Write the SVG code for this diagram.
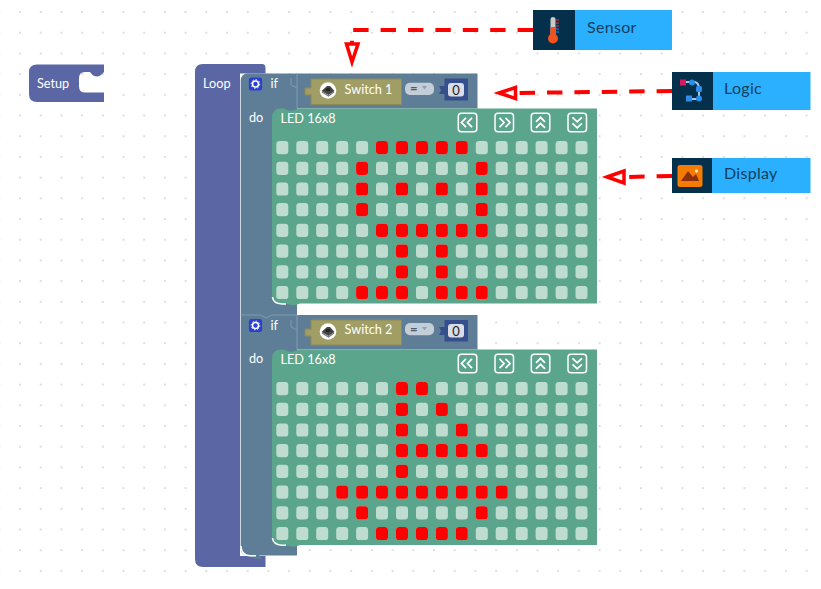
<svg xmlns="http://www.w3.org/2000/svg" width="821" height="589" viewBox="0 0 821 589">
<style>
text{font-family:"Lato","Liberation Sans",sans-serif}
.bt{fill:#fff;font-size:12.7px}
.lab{fill:#123f5c;font-size:16px;letter-spacing:.3px}
.loop{fill:#5b67a5}
.iff{fill:#5e7e97}
.green{fill:#5ba58c}
.sw{fill:#a09e64;stroke:#8c8a55;stroke-width:1}
.nav{fill:none;stroke:#fff;stroke-width:1.5}
.chev{fill:none;stroke:#fff;stroke-width:1.8}
.dash{fill:none;stroke:#f00;stroke-width:4;stroke-dasharray:15.4 12}
.head{fill:#fff;stroke:#f00;stroke-width:3.5}
.dark{fill:#04304b}
.blue{fill:#2bb0ff}
.hi{fill:none;stroke:#fff;stroke-width:1.6}
.tab{fill:none;stroke:#7f9ab0;stroke-width:1}
</style>
<defs>
<pattern id="dots" width="20.7" height="20.7" patternUnits="userSpaceOnUse" x="-0.7" y="12">
<circle cx="0" cy="0" r="0.9" fill="#d0d0d0"/><circle cx="20.7" cy="0" r="0.9" fill="#d0d0d0"/><circle cx="0" cy="20.7" r="0.9" fill="#d0d0d0"/><circle cx="20.7" cy="20.7" r="0.9" fill="#d0d0d0"/>
</pattern>
<rect id="c" width="12" height="13.2" rx="3.2" fill="#bfdcd1"/>
<rect id="r" width="12" height="13.2" rx="3.2" fill="#f00"/>
<g id="row">
<use href="#c" x="276.3"/><use href="#c" x="296.3"/><use href="#c" x="316.2"/><use href="#c" x="336.2"/><use href="#c" x="356.1"/><use href="#c" x="376"/><use href="#c" x="396"/><use href="#c" x="416"/><use href="#c" x="435.9"/><use href="#c" x="455.8"/><use href="#c" x="475.8"/><use href="#c" x="495.7"/><use href="#c" x="515.7"/><use href="#c" x="535.6"/><use href="#c" x="555.6"/><use href="#c" x="575.5"/>
</g>
<g id="navs">
<rect class="nav" x="458.300" y="0" width="18.500" height="18.500" rx="3"/><path class="chev" d="M466 4.500l-4.500 4.700 4.500 4.700M472 4.500l-4.500 4.700 4.500 4.700"/>
<rect class="nav" x="495" y="0" width="18.500" height="18.500" rx="3"/><path class="chev" d="M499.500 4.500l4.500 4.700-4.500 4.700M505.500 4.500l4.500 4.700-4.500 4.700"/>
<rect class="nav" x="531.300" y="0" width="18.500" height="18.500" rx="3"/><path class="chev" d="M536 8.500l4.500-4.500 4.500 4.500M536 14.500l4.500-4.500 4.500 4.500"/>
<rect class="nav" x="568" y="0" width="18.500" height="18.500" rx="3"/><path class="chev" d="M572.500 4l4.700 4.500 4.700-4.500M572.500 10l4.700 4.500 4.700-4.500"/>
</g>
<g id="gear"><rect x="-6.600" y="-6.600" width="13.200" height="13.200" rx="2.500" fill="#2a3fd0"/><circle r="3" fill="none" stroke="#fff" stroke-width="1.6"/><circle r="4.300" fill="none" stroke="#fff" stroke-width="1" stroke-dasharray="1.500 1.800"/></g>
<g id="swi"><circle r="8.300" fill="#fff"/><path d="M-6.500 0.500L-1-4.500H2L6.500 0.500 0.500 4.500Z" fill="#444"/><path d="M-6 1.500L0.500 5.500 6 1.500" fill="none" stroke="#777" stroke-width="1.200"/><ellipse cx="0" cy="-1" rx="2.500" ry="1.600" fill="#222"/></g>
</defs>
<rect width="821" height="589" fill="#fff"/>
<rect width="821" height="589" fill="url(#dots)"/>
<g id="setup">
<path class="loop" d="M37 64.500H104V72Q100 76.500 97 76.500 93 76.500 90 72H85Q79 72 79 78V86.500Q79 92.500 85 92.500H104V102H37Q29 102 29 94V72Q29 64.500 37 64.500Z"/>
<text class="bt" x="37" y="88">Setup</text>
</g>
<g id="loop">
<path class="loop" d="M203 64H262Q265.500 64 265.500 68V73.500H240V556H265.500V567H203Q195 567 195 559V72Q195 64 203 64Z"/>
<text class="bt" x="203" y="88">Loop</text>
</g>
<g id="if1">
<path class="iff" d="M248 73.500H477.500V108.500H297V315H240.700V81Q240.700 73.500 248 73.500Z"/>
<use href="#gear" transform="translate(255.500 84)"/>
<text class="bt" x="270.500" y="88">if</text>
<text class="bt" x="249" y="122">do</text>
<path class="tab" d="M291 78V85L297 88M297 73.500V108"/>
<path class="sw" d="M311 79H401.500V104.500H311V95H305V88H311Z"/>
<use href="#swi" transform="translate(328 90.500)"/>
<text class="bt" x="344.500" y="93.500">Switch 1</text>
<rect x="405" y="82.700" width="29" height="12.300" rx="5" fill="#c4ced9"/>
<text x="410" y="93" fill="#4a5c6d" font-size="13" font-weight="700">=</text><path d="M422 86h5l-2.500 3.500Z" fill="#8fa0b0"/>
<path d="M444.500 78.500H468V100.500H444.500V94H439L441 90 439 86H444.500Z" fill="#354f8c"/>
<rect x="448" y="83" width="16" height="13.500" rx="3" fill="#d8dde8"/>
<text x="456" y="94.500" fill="#222" font-size="13" text-anchor="middle">0</text>
</g>
<g id="led1">
<path class="green" d="M272 118Q272 108.500 281 108.500H284Q291 113 298 108.500H597V303.500H300Q293 307 286 303.500H282Q272 303.500 272 295Z"/>
<path class="hi" d="M272.500 297Q273 303.500 282 304H286"/>
<text class="bt" x="280.500" y="123">LED 16x8</text>
<use href="#navs" y="113.300"/>
<use href="#row" y="141"/><use href="#row" y="161.700"/><use href="#row" y="182.400"/><use href="#row" y="203.100"/><use href="#row" y="223.800"/><use href="#row" y="244.500"/><use href="#row" y="265.200"/><use href="#row" y="285.900"/>
<use href="#r" x="376" y="141"/><use href="#r" x="396" y="141"/><use href="#r" x="416" y="141"/><use href="#r" x="435.900" y="141"/><use href="#r" x="455.800" y="141"/>
<use href="#r" x="356.100" y="161.700"/><use href="#r" x="475.800" y="161.700"/>
<use href="#r" x="356.100" y="182.400"/><use href="#r" x="396" y="182.400"/><use href="#r" x="435.900" y="182.400"/><use href="#r" x="475.800" y="182.400"/>
<use href="#r" x="356.100" y="203.100"/><use href="#r" x="475.800" y="203.100"/>
<use href="#r" x="376" y="223.800"/><use href="#r" x="396" y="223.800"/><use href="#r" x="416" y="223.800"/><use href="#r" x="435.900" y="223.800"/><use href="#r" x="455.800" y="223.800"/><use href="#r" x="475.800" y="223.800"/>
<use href="#r" x="396" y="244.500"/><use href="#r" x="435.900" y="244.500"/>
<use href="#r" x="396" y="265.200"/><use href="#r" x="435.900" y="265.200"/>
<use href="#r" x="356.100" y="285.900"/><use href="#r" x="376" y="285.900"/><use href="#r" x="396" y="285.900"/><use href="#r" x="435.900" y="285.900"/><use href="#r" x="455.800" y="285.900"/><use href="#r" x="475.800" y="285.900"/>
</g>
<g id="if2">
<path class="iff" d="M240.700 315H477.500V349.500H297V555.500H259Q265 559 259 559 253 559 247 555.500Q240.700 555 240.700 548Z"/>
<path class="hi" d="M241 546Q241 555 250 555.800H256"/>
<path class="tab" d="M240.700 315H260L266 318 272 315H297M297 315V349"/>
<use href="#gear" transform="translate(255.500 325.500)"/>
<text class="bt" x="270.500" y="330">if</text>
<text class="bt" x="249" y="363">do</text>
<path class="tab" d="M291 320V327L297 330"/>
<path class="sw" d="M311 320H401.500V345H311V336H305V329H311Z"/>
<use href="#swi" transform="translate(328 331.500)"/>
<text class="bt" x="344.500" y="334">Switch 2</text>
<rect x="405" y="323" width="29" height="12.300" rx="5" fill="#c4ced9"/>
<text x="410" y="333.500" fill="#4a5c6d" font-size="13" font-weight="700">=</text><path d="M422 327h5l-2.500 3.500Z" fill="#8fa0b0"/>
<path d="M444.500 320H468V341.500H444.500V335H439L441 331 439 327H444.500Z" fill="#354f8c"/>
<rect x="448" y="324" width="16" height="13.500" rx="3" fill="#d8dde8"/>
<text x="456" y="335.500" fill="#222" font-size="13" text-anchor="middle">0</text>
</g>
<g id="led2">
<path class="green" d="M272 359Q272 349.500 281 349.500H284Q291 354 298 349.500H597V545H300Q293 548 286 545H282Q272 545 272 537Z"/>
<path class="hi" d="M272.500 538Q273 544.500 282 545.300H286"/>
<text class="bt" x="280.500" y="364">LED 16x8</text>
<use href="#navs" y="354.300"/>
<use href="#row" y="382"/><use href="#row" y="402.700"/><use href="#row" y="423.400"/><use href="#row" y="444.100"/><use href="#row" y="464.800"/><use href="#row" y="485.500"/><use href="#row" y="506.200"/><use href="#row" y="526.900"/>
<use href="#r" x="396" y="382"/><use href="#r" x="416" y="382"/>
<use href="#r" x="396" y="402.700"/><use href="#r" x="435.900" y="402.700"/>
<use href="#r" x="396" y="423.400"/><use href="#r" x="455.800" y="423.400"/>
<use href="#r" x="396" y="444.100"/><use href="#r" x="416" y="444.100"/><use href="#r" x="435.900" y="444.100"/><use href="#r" x="455.800" y="444.100"/><use href="#r" x="475.800" y="444.100"/>
<use href="#r" x="396" y="464.800"/>
<use href="#r" x="336.200" y="485.500"/><use href="#r" x="356.100" y="485.500"/><use href="#r" x="376" y="485.500"/><use href="#r" x="396" y="485.500"/><use href="#r" x="416" y="485.500"/><use href="#r" x="435.900" y="485.500"/><use href="#r" x="455.800" y="485.500"/><use href="#r" x="475.800" y="485.500"/><use href="#r" x="495.700" y="485.500"/>
<use href="#r" x="356.100" y="506.200"/><use href="#r" x="475.800" y="506.200"/>
<use href="#r" x="376" y="526.900"/><use href="#r" x="396" y="526.900"/><use href="#r" x="416" y="526.900"/><use href="#r" x="435.900" y="526.900"/><use href="#r" x="455.800" y="526.900"/>
</g>
<g id="sensor">
<rect class="blue" x="533" y="10" width="139" height="40"/><rect class="dark" x="533" y="10" width="42" height="40"/>
<rect x="550.500" y="17" width="5" height="24" rx="2.500" fill="#c9c9c9"/><rect x="550.500" y="27" width="5" height="14" fill="#f4511e"/><circle cx="553" cy="38.500" r="5" fill="#f4511e"/>
<path d="M556 20h3M556 23h3M556 26h3" stroke="#e53935" stroke-width="1"/><path d="M556 29h3M556 32h3" stroke="#1e88e5" stroke-width="1"/>
<text class="lab" x="587" y="33">Sensor</text>
</g>
<g id="logic">
<rect class="blue" x="672" y="72" width="138.500" height="38"/><rect class="dark" x="672" y="72" width="41" height="38"/>
<path d="M686 82H695Q699 83 699 89V98Q699 99 694 99H688" fill="none" stroke="#9cc7ee" stroke-width="2"/>
<rect x="680" y="79.500" width="6" height="6" fill="#d81b60"/><circle cx="692" cy="82.500" r="3" fill="#2b8ee8"/><rect x="696" y="86" width="6" height="6" rx="1.500" fill="#2b8ee8"/><circle cx="699" cy="98.500" r="3" fill="#2b8ee8"/><rect x="686" y="95.500" width="6" height="6" fill="#2b8ee8"/>
<text class="lab" x="724" y="94">Logic</text>
</g>
<g id="display">
<rect class="blue" x="672" y="158" width="138.500" height="35"/><rect class="dark" x="672" y="158" width="40" height="35"/>
<rect x="677.500" y="165" width="25" height="22" rx="2.500" fill="#f57c00"/>
<path d="M681 181L688 171 693 177 696 174 699 181Z" fill="#8d2f0f"/><circle cx="696.500" cy="171" r="1.700" fill="#ffe0b2"/>
<text class="lab" x="724" y="179">Display</text>
</g>
<g id="connectors">
<path class="dash" d="M533 30H352V44"/>
<path class="head" d="M352 62L346.500 44H358Z"/>
<path class="dash" d="M672 91L517 93"/>
<path class="head" d="M499 93L515.500 87.500V98.500Z"/>
<path class="dash" d="M672 176L626 177"/>
<path class="head" d="M607 177L624 171V183Z"/>
</g>
</svg>
